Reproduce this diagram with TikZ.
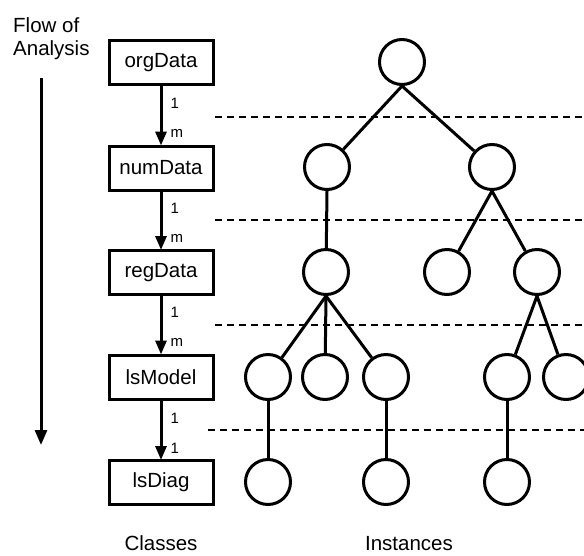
\documentclass[tikz,border=0pt]{standalone}
\usepackage{fontspec}
\setmainfont{Liberation Sans}
\usetikzlibrary{arrows.meta}
\begin{document}
\begin{tikzpicture}[x=1pt,y=-1pt,
  bigtxt/.style={font=\fontsize{20.5}{24}\selectfont},
  cls/.style={draw, line width=3pt, minimum width=104pt, minimum height=44pt, inner sep=0pt, bigtxt},
  inst/.style={draw, circle, line width=3pt, minimum size=45pt, inner sep=0pt},
  tedge/.style={line width=3pt},
  assoc/.style={line width=3pt, -{Triangle[length=14pt,width=11pt]}, shorten >=-1pt},
  lbl/.style={anchor=west, xshift=8pt, inner sep=0pt, font=\fontsize{15}{18}\selectfont},
  dashline/.style={line width=1.8pt, dash pattern=on 7pt off 5pt},
  flow/.style={line width=3pt, -{Triangle[length=15pt,width=12pt]}}
]
\useasboundingbox (0,0) rectangle (584,555);
% titles
\node[bigtxt, anchor=base west, inner sep=0pt] (t1) at (13,32) {Flow of};
\node[bigtxt, anchor=base west, inner sep=0pt] (t2) at (13,55) {Analysis};
\coordinate (fs) at (41,78);
\coordinate (fe) at (41,445);
\draw[flow] (fs) -- (fe);
% classes
\node[cls] (org) at (161,62.5) {orgData};
\node[cls] (num) at (161,168) {numData};
\node[cls] (reg) at (161,272.5) {regData};
\node[cls] (lsm) at (161,377) {lsModel};
\node[cls] (lsd) at (161,482.5) {lsDiag};
\draw[assoc] (org.south) -- node[lbl, pos=0.29]{1} node[lbl, pos=0.81]{m} (num.north);
\draw[assoc] (num.south) -- node[lbl, pos=0.29]{1} node[lbl, pos=0.81]{m} (reg.north);
\draw[assoc] (reg.south) -- node[lbl, pos=0.29]{1} node[lbl, pos=0.81]{m} (lsm.north);
\draw[assoc] (lsm.south) -- node[lbl, pos=0.31]{1} node[lbl, pos=0.81]{1} (lsd.north);
% dashed level lines
\draw[dashline] (215,117) -- (584,117);
\draw[dashline] (215,220) -- (584,220);
\draw[dashline] (215,325) -- (584,325);
\draw[dashline] (208,430) -- (584,430);
% instances
\node[inst] (r) at (402,62) {};
\node[inst] (a) at (327,167) {};
\node[inst] (b) at (492,167) {};
\node[inst] (c) at (326,272) {};
\node[inst] (d) at (447,272) {};
\node[inst] (e) at (537,272) {};
\node[inst] (f) at (268,377) {};
\node[inst] (g) at (325,377) {};
\node[inst] (h) at (386,377) {};
\node[inst] (i) at (507,377) {};
\node[inst] (j) at (566,377) {};
\node[inst] (k) at (268,482) {};
\node[inst] (l) at (386,482) {};
\node[inst] (n) at (507,482) {};
\draw[tedge] (r.south) -- (a);
\draw[tedge] (r.south) -- (b);
\draw[tedge] (a.south) -- (c);
\draw[tedge] (b.south) -- (d);
\draw[tedge] (b.south) -- (e);
\draw[tedge] (c.south) -- (f);
\draw[tedge] (c.south) -- (g);
\draw[tedge] (c.south) -- (h);
\draw[tedge] (e.south) -- (i);
\draw[tedge] (e.south) -- (j);
\draw[tedge] (f.south) -- (k);
\draw[tedge] (h.south) -- (l);
\draw[tedge] (i.south) -- (n);
% captions
\node[bigtxt, anchor=base, inner sep=0pt] (cl) at (161,550) {Classes};
\node[bigtxt, anchor=base, inner sep=0pt] (in) at (409,550) {Instances};
\end{tikzpicture}
\end{document}
